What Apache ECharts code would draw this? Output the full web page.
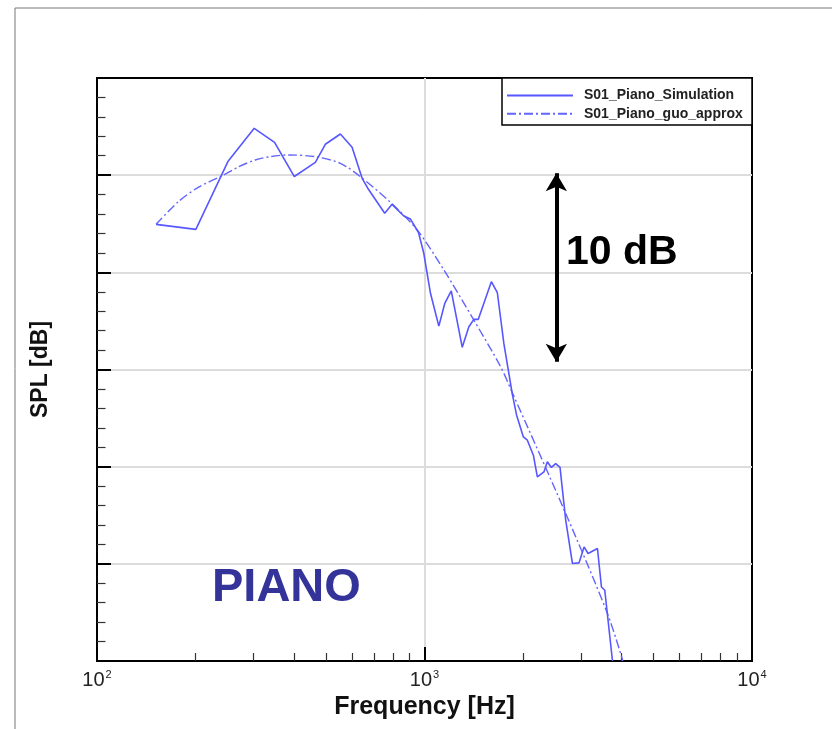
<!DOCTYPE html>
<html>
<head>
<meta charset="utf-8">
<script src="https://cdn.jsdelivr.net/npm/echarts@6/dist/echarts.min.js"></script>
<style>
  html, body { margin: 0; padding: 0; background: #fff; }
  #chart { width: 832px; height: 729px; }
</style>
</head>
<body>
<div id="chart"></div>
<script>
// Simulated PIANO spectrum: frequency [Hz] and SPL [dB, relative]
const simFreq = [151.5, 200.4, 251, 302, 348.5, 400.4, 464.2, 498, 553.6, 601, 645, 671, 756, 796, 864.6, 906,
  958.7, 995, 1043, 1106, 1153, 1207, 1304, 1366, 1415, 1460, 1600, 1669, 1747, 1854, 1911, 2004, 2061, 2150,
  2211, 2316, 2372, 2440, 2515, 2593, 2699, 2829, 2964, 3071, 3158, 3374, 3470, 3552, 3750];
const simSpl = [22.47, 22.21, 25.70, 27.41, 26.69, 24.93, 25.66, 26.59, 27.12, 26.44, 24.84, 24.33, 23.04, 23.50, 22.90, 22.74,
  22.05, 20.98, 18.92, 17.23, 18.40, 19.05, 16.14, 17.20, 17.58, 17.58, 19.52, 18.95, 16.34, 13.73, 12.65, 11.53, 11.36, 10.59,
  9.47, 9.73, 10.25, 9.96, 10.16, 9.96, 7.25, 5.02, 5.05, 5.87, 5.53, 5.79, 3.81, 3.64, 0];

// Guo approximation of the same spectrum
const guoFreq = [151.5, 177.3, 205, 240.6, 270, 304.2, 340, 384.6, 464.2, 553.6, 637.4, 787, 950, 1146, 1415, 1708, 1854, 2699, 3620, 4034];
const guoSpl = [22.47, 23.64, 24.40, 24.96, 25.42, 25.78, 25.96, 26.04, 25.95, 25.61, 24.92, 23.60, 22.18, 20.12, 17.54, 15.14, 13.81, 7.59, 2.44, 0];

const seriesNames = ['S01_Piano_Simulation', 'S01_Piano_guo_approx'];

// Axis ranges and ticks
const freqRange = [100, 10000];
const splRange = [0, 30];
const splStep = 5;
const freqMinorTicks = [200, 300, 400, 500, 600, 700, 800, 900, 2000, 3000, 4000, 5000, 6000, 7000, 8000, 9000];

// 10 dB scale bar
const scaleBarFreq = 2527;
const scaleBarSpl = [25.1, 15.4];
const scaleBarText = '10 dB';
const caseLabel = 'PIANO';

const FONT = "'Liberation Sans', Arial, Helvetica, sans-serif";
const blue = '#5757ff';

const zip = (xs, ys) => xs.map((x, i) => [x, ys[i]]);

const chart = echarts.init(document.getElementById('chart'), null, { renderer: 'canvas' });

const option = {
  backgroundColor: '#fff',
  animation: false,
  textStyle: { fontFamily: FONT },
  grid: {
    left: 97, right: 80, top: 78, bottom: 68,
    show: true, borderColor: '#000', borderWidth: 2, backgroundColor: 'transparent'
  },
  legend: {
    data: seriesNames,
    orient: 'vertical',
    left: 506, top: 88.5,
    itemWidth: 66, itemHeight: 14, itemGap: 4.3,
    padding: 0,
    z: 6,
    itemStyle: { opacity: 0 },
    textStyle: { fontFamily: FONT, fontSize: 14, fontWeight: 'bold', color: '#222', lineHeight: 14, padding: [0, 0, 0, 6] }
  },
  xAxis: [
    {
      type: 'log', logBase: 10, min: freqRange[0], max: freqRange[1],
      name: 'Frequency [Hz]', nameLocation: 'middle', nameGap: 27,
      nameTextStyle: { fontFamily: FONT, fontSize: 25, fontWeight: 'bold', color: '#111' },
      axisLine: { show: true, lineStyle: { color: '#000', width: 2 } },
      axisTick: { show: true, inside: true, length: 14, lineStyle: { color: '#000', width: 2 } },
      minorTick: { show: false },
      splitLine: { show: true, showMinLine: false, showMaxLine: false, lineStyle: { color: '#dcdcdc', width: 2 } },
      axisLabel: {
        margin: 8,
        formatter: v => '{b|10}{s|' + Math.round(Math.log10(v)) + '}',
        rich: {
          b: { fontFamily: FONT, fontSize: 20, color: '#222', lineHeight: 22 },
          s: { fontFamily: FONT, fontSize: 11, color: '#222', lineHeight: 22, verticalAlign: 'top', padding: [0, 0, 10, 1] }
        }
      }
    },
    {
      type: 'log', logBase: 10, min: freqRange[0], max: freqRange[1], position: 'bottom',
      axisLine: { show: false },
      axisLabel: { show: false },
      splitLine: { show: false },
      axisTick: { show: true, inside: true, length: 8, customValues: freqMinorTicks, lineStyle: { color: '#333', width: 1.2 } }
    }
  ],
  yAxis: {
    type: 'value', min: splRange[0], max: splRange[1], interval: splStep,
    name: 'SPL [dB]', nameLocation: 'middle', nameGap: 45,
    nameTextStyle: { fontFamily: FONT, fontSize: 23, fontWeight: 'bold', color: '#111' },
    axisLine: { show: true, lineStyle: { color: '#000', width: 2 } },
    axisTick: { show: true, inside: true, length: 14, lineStyle: { color: '#000', width: 2 } },
    minorTick: { show: true, splitNumber: 5, length: 8.5, lineStyle: { color: '#333', width: 1.2 } },
    splitLine: { show: true, showMinLine: false, showMaxLine: false, lineStyle: { color: '#dcdcdc', width: 2 } },
    axisLabel: { show: false }
  },
  series: [
    {
      name: seriesNames[0], type: 'line', xAxisIndex: 0,
      data: zip(simFreq, simSpl),
      symbol: 'none', smooth: false, clip: true, z: 3,
      lineStyle: { color: blue, width: 1.6 },
      itemStyle: { color: blue },
      markLine: {
        silent: true, symbol: ['arrow', 'arrow'], symbolSize: [16, 18],
        label: { show: false },
        lineStyle: { color: '#000', width: 4, type: 'solid' },
        emphasis: { disabled: true },
        data: [[{ coord: [scaleBarFreq, scaleBarSpl[0]] }, { coord: [scaleBarFreq, scaleBarSpl[1]] }]]
      }
    },
    {
      name: seriesNames[1], type: 'line', xAxisIndex: 0,
      data: zip(guoFreq, guoSpl),
      symbol: 'none', smooth: 0.3, clip: true, z: 2,
      lineStyle: { color: '#6464ff', width: 1.4, type: [9, 3, 2, 3] },
      itemStyle: { color: '#6464ff' }
    }
  ],
  graphic: [
    // page frame
    { type: 'line', shape: { x1: 15, y1: 8, x2: 832, y2: 8 }, style: { stroke: '#777', lineWidth: 1 } },
    { type: 'line', shape: { x1: 15, y1: 8, x2: 15, y2: 729 }, style: { stroke: '#777', lineWidth: 1 } },
    // legend box
    { type: 'rect', z: 5, shape: { x: 502, y: 78, width: 250, height: 47 }, style: { fill: '#fff', stroke: '#000', lineWidth: 1.5 } },
    { type: 'text', z: 5, left: 566, top: 232, style: { text: scaleBarText, fontFamily: FONT, fontSize: 41, fontWeight: 'bold', fill: '#000' } },
    { type: 'text', z: 5, left: 212, top: 565, style: { text: caseLabel, fontFamily: FONT, fontSize: 47, fontWeight: 'bold', fill: '#333399' } }
  ]
};

chart.setOption(option);
</script>
</body>
</html>
